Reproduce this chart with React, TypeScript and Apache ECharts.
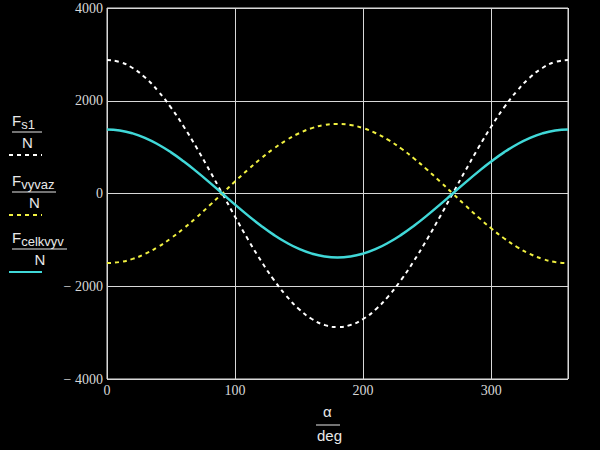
import React, { useEffect, useRef } from "react";
import * as echarts from "echarts";

const alphaDeg = [0,10,20,30,40,50,60,70,80,90,100,110,120,130,140,150,160,170,180,190,200,210,220,230,240,250,260,270,280,290,300,310,320,330,340,350,360];
const fS1 = [2880,2836,2706,2494,2206,1851,1440,985,500,0,-500,-985,-1440,-1851,-2206,-2494,-2706,-2836,-2880,-2836,-2706,-2494,-2206,-1851,-1440,-985,-500,0,500,985,1440,1851,2206,2494,2706,2836,2880];
const fVyvaz = [-1500,-1477,-1410,-1299,-1149,-964,-750,-513,-260,0,260,513,750,964,1149,1299,1410,1477,1500,1477,1410,1299,1149,964,750,513,260,0,-260,-513,-750,-964,-1149,-1299,-1410,-1477,-1500];
const fCelkvyv = [1380,1359,1297,1195,1057,887,690,472,240,0,-240,-472,-690,-887,-1057,-1195,-1297,-1359,-1380,-1359,-1297,-1195,-1057,-887,-690,-472,-240,0,240,472,690,887,1057,1195,1297,1359,1380];
const xTicks = [0, 100, 200, 300];
const yTicks = [-4000, -2000, 0, 2000, 4000];

const pairs = (ys: number[]) => alphaDeg.map((x, i) => [x, ys[i]]);

const sans = "Liberation Sans";
const serif = "Liberation Serif";
const txtColor = "#e8e8e8";

function legendItem(top: number, sub: string, lineW: number, color: string, dashed: boolean) {
  return [
    {
      type: "text",
      left: 12,
      top,
      style: {
        text: "{f|F}{s|" + sub + "}",
        rich: {
          f: { fontSize: 15, fontFamily: sans, fill: txtColor },
          s: { fontSize: 13, fontFamily: sans, fill: txtColor, padding: [8, 0, 0, 0] },
        },
      },
    },
    {
      type: "line",
      shape: { x1: 12, y1: top + 19, x2: 12 + lineW, y2: top + 19 },
      style: { stroke: txtColor, lineWidth: 1 },
    },
    {
      type: "text",
      left: 12 + lineW / 2 - 5,
      top: top + 22,
      style: { text: "N", fontSize: 15, fontFamily: sans, fill: txtColor },
    },
    {
      type: "line",
      shape: { x1: 9, y1: top + 42, x2: 42, y2: top + 42 },
      style: { stroke: color, lineWidth: 2, lineDash: dashed ? [4, 4] : null },
    },
  ];
}

export default function App() {
  const ref = useRef<HTMLDivElement>(null);
  useEffect(() => {
    const chart = echarts.init(ref.current!, null, { renderer: "svg" });
    chart.setOption({
      animation: false,
      backgroundColor: "#000000",
      grid: { left: 107, right: 32, top: 8, bottom: 71, show: true, borderColor: "#e0e0e0", borderWidth: 1 },
      xAxis: {
        type: "value",
        min: 0,
        max: 360,
        interval: 100,
        axisLine: { show: false },
        axisTick: { show: false },
        splitLine: { show: true, lineStyle: { color: "#d8d8d8", width: 1 } },
        axisLabel: {
          color: "#d8d8d8",
          fontFamily: serif,
          fontSize: 14,
          margin: 4,
          formatter: (v: number) => (xTicks.includes(v) ? String(v) : ""),
        },
      },
      yAxis: {
        type: "value",
        min: -4000,
        max: 4000,
        interval: 2000,
        axisLine: { show: false },
        axisTick: { show: false },
        splitLine: { show: true, lineStyle: { color: "#d8d8d8", width: 1 } },
        axisLabel: {
          color: "#d8d8d8",
          fontFamily: serif,
          fontSize: 14,
          margin: 4,
          formatter: (v: number) => (yTicks.includes(v) ? (v < 0 ? "\u2212 " + Math.abs(v) : String(v)) : ""),
        },
      },
      series: [
        {
          type: "line",
          data: pairs(fS1),
          smooth: true,
          showSymbol: false,
          lineStyle: { color: "#ffffff", width: 2, type: [4, 4] },
        },
        {
          type: "line",
          data: pairs(fVyvaz),
          smooth: true,
          showSymbol: false,
          lineStyle: { color: "#f0f040", width: 2, type: [4, 4] },
        },
        {
          type: "line",
          data: pairs(fCelkvyv),
          smooth: true,
          showSymbol: false,
          lineStyle: { color: "#40d8d8", width: 2.5 },
        },
      ],
      graphic: [
        ...legendItem(113, "s1", 30, "#ffffff", true),
        ...legendItem(173, "vyvaz", 44, "#f0f040", true),
        ...legendItem(230, "celkvyv", 55, "#40d8d8", false),
        {
          type: "text",
          left: 323,
          top: 404,
          style: { text: "α", fontSize: 15, fontFamily: sans, fill: txtColor },
        },
        {
          type: "line",
          shape: { x1: 316, y1: 425, x2: 340, y2: 425 },
          style: { stroke: txtColor, lineWidth: 1 },
        },
        {
          type: "text",
          left: 317,
          top: 428,
          style: { text: "deg", fontSize: 15, fontFamily: sans, fill: txtColor },
        },
      ],
    });
    return () => chart.dispose();
  }, []);
  return <div ref={ref} style={{ position: "fixed", left: 0, top: 0, width: 600, height: 450 }} />;
}
